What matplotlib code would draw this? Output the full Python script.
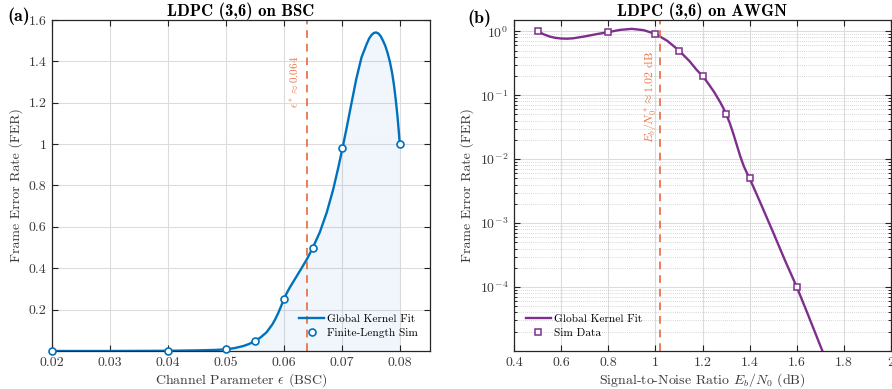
import matplotlib
matplotlib.use("Agg")
import matplotlib.pyplot as plt
from matplotlib.ticker import LogLocator, NullFormatter

plt.rcParams["font.family"] = "serif"
plt.rcParams["font.serif"] = ["cmr10"]
plt.rcParams["mathtext.fontset"] = "cm"
plt.rcParams["axes.formatter.use_mathtext"] = True
plt.rcParams["axes.unicode_minus"] = False

BLUE = "#0072BD"
PURPLE = "#7E2F8E"
ORANGE = "#E8693A"
TXT = "#3a3a3a"

# (a) BSC: simulated points and the kernel fit
bsc_eps = [0.02, 0.04, 0.05, 0.055, 0.06, 0.065, 0.07, 0.08]
bsc_fer = [0.0, 0.0, 0.008, 0.048, 0.25, 0.50, 0.98, 1.0]
bsc_fit_eps = [0.020, 0.030, 0.040, 0.045, 0.048, 0.050, 0.0515, 0.053, 0.054,
               0.055, 0.056, 0.057, 0.058, 0.0585, 0.059, 0.0595, 0.060, 0.0605,
               0.061, 0.062, 0.063, 0.064, 0.065, 0.0662, 0.0674, 0.0685, 0.0694,
               0.0701, 0.0708, 0.0717, 0.0725, 0.0734, 0.0743, 0.0747, 0.0751,
               0.0755, 0.0759, 0.0763, 0.0767, 0.0771, 0.0775, 0.0779, 0.0783,
               0.0787, 0.0790, 0.0793, 0.0796, 0.0798, 0.0800]
bsc_fit_fer = [0.0, 0.0, 0.001, 0.003, 0.005, 0.008, 0.014, 0.024, 0.034,
               0.048, 0.066, 0.090, 0.128, 0.153, 0.182, 0.215, 0.25, 0.28,
               0.306, 0.352, 0.398, 0.445, 0.50, 0.574, 0.670, 0.780, 0.888,
               0.979, 1.074, 1.203, 1.316, 1.42, 1.485, 1.51, 1.527,
               1.537, 1.540, 1.535, 1.522, 1.50, 1.475, 1.44, 1.397,
               1.34, 1.284, 1.215, 1.135, 1.07, 1.0]
bsc_thr = 0.064

# (b) AWGN
awgn_snr = [0.5, 0.8, 1.0, 1.1, 1.2, 1.3, 1.4, 1.6]
awgn_fer = [1.0, 0.97, 0.90, 0.50, 0.20, 0.05, 0.005, 1e-4]
awgn_fit_snr = [0.5, 0.525, 0.55, 0.575, 0.6, 0.625, 0.65, 0.7, 0.75, 0.8, 0.85,
                0.9, 0.95, 1.0, 1.05, 1.1, 1.145, 1.175, 1.2, 1.225, 1.25, 1.275,
                1.29, 1.3, 1.315, 1.33, 1.345, 1.36, 1.375, 1.39, 1.4, 1.425,
                1.45, 1.5, 1.55, 1.6, 1.65, 1.7, 1.72]
awgn_fit_fer = [1.0, 0.90, 0.83, 0.79, 0.77, 0.765, 0.775, 0.83, 0.90, 0.97, 1.05,
                1.09, 1.04, 0.91, 0.71, 0.50, 0.34, 0.249, 0.20, 0.151, 0.111, 0.0776,
                0.061, 0.0507, 0.0372, 0.0254, 0.0168, 0.0111, 0.00776, 0.00589, 0.00495, 0.00309,
                1.9e-3, 7.1e-4, 2.6e-4, 1e-4, 3.5e-5, 1.2e-5, 7.9e-6]
awgn_thr = 1.02

fig = plt.figure(figsize=(8.92, 3.89), dpi=100)
ax1 = fig.add_axes([0.0583, 0.0977, 0.4237, 0.8509])
ax2 = fig.add_axes([0.5762, 0.0977, 0.4228, 0.8509])


def style(ax):
    ax.tick_params(direction="in", top=True, right=True, length=4, width=0.8,
                   colors="#222222", labelcolor=TXT, labelsize=10, pad=4)
    ax.tick_params(which="minor", direction="in", top=False, right=True, length=2.2)
    for s in ax.spines.values():
        s.set_color("#262626")
        s.set_linewidth(0.9)
    ax.grid(True, which="major", color="#dcdcdc", linewidth=0.8)
    ax.set_axisbelow(True)


leg_kw = dict(frameon=False, fontsize=8.2, handlelength=2.2, handletextpad=0.25,
              labelspacing=0.35, borderaxespad=0.3)

# --- panel (a)
style(ax1)
ax1.fill_between(bsc_fit_eps, bsc_fit_fer, 0, color=BLUE, alpha=0.06, linewidth=0)
ax1.plot(bsc_fit_eps, bsc_fit_fer, color=BLUE, lw=1.7, label="Global Kernel Fit")
ax1.plot(bsc_eps, bsc_fer, "o", ms=5, mfc="white", mec=BLUE, mew=1.2,
         label="Finite-Length Sim", clip_on=False, zorder=5)
ax1.axvline(bsc_thr, color=ORANGE, ls=(0, (4, 3)), lw=1.4, alpha=0.85)
ax1.text(0.0619, 1.30, r"$\epsilon^* \approx 0.064$", color=ORANGE,
         rotation=90, fontsize=8, ha="center", va="center", alpha=0.9)
ax1.set_xlim(0.02, 0.0852)
ax1.set_ylim(0, 1.6)
ax1.set_xticks([0.02, 0.03, 0.04, 0.05, 0.06, 0.07, 0.08])
ax1.set_xticklabels(["0.02", "0.03", "0.04", "0.05", "0.06", "0.07", "0.08"])
ax1.set_yticks([0.2, 0.4, 0.6, 0.8, 1.0, 1.2, 1.4, 1.6])
ax1.set_yticklabels(["0.2", "0.4", "0.6", "0.8", "1", "1.2", "1.4", "1.6"])
ax1.set_xlabel(r"Channel Parameter $\epsilon$ (BSC)", fontsize=10, color=TXT, labelpad=2)
ax1.set_ylabel("Frame Error Rate (FER)", fontsize=10, color=TXT, labelpad=4)
ax1.set_title("LDPC (3,6) on BSC", family="cmb10", fontsize=12, pad=3)
ax1.legend(loc="lower right", bbox_to_anchor=(0.99, 0.015), **leg_kw)
fig.text(0.008, 0.957, "(a)", family="cmb10", fontsize=13, ha="left", va="center")

# --- panel (b)
style(ax2)
ax2.set_yscale("log")
ax2.plot(awgn_fit_snr, awgn_fit_fer, color=PURPLE, lw=1.7, label="Global Kernel Fit")
ax2.plot(awgn_snr, awgn_fer, "s", ms=4.2, mfc="white", mec=PURPLE, mew=1.1,
         label="Sim Data", zorder=5)
ax2.axvline(awgn_thr, color=ORANGE, ls=(0, (4, 3)), lw=1.4, alpha=0.85)
ax2.text(awgn_thr - 0.04, 0.095, r"$E_b/N_0^* \approx 1.02$ dB", color=ORANGE,
         rotation=90, fontsize=8.5, ha="center", va="center", alpha=0.9)
ax2.set_xlim(0.4, 2.0)
ax2.set_ylim(1e-5, 1.5)
ax2.set_xticks([0.4, 0.6, 0.8, 1.0, 1.2, 1.4, 1.6, 1.8, 2.0])
ax2.set_xticklabels(["0.4", "0.6", "0.8", "1", "1.2", "1.4", "1.6", "1.8", "2"])
ax2.set_yticks([1e-4, 1e-3, 1e-2, 1e-1, 1e0])
ax2.set_yticklabels([r"$10^{-4}$", r"$10^{-3}$", r"$10^{-2}$", r"$10^{-1}$", r"$10^{0}$"])
ax2.yaxis.set_minor_locator(LogLocator(base=10, subs=range(2, 10), numticks=20))
ax2.yaxis.set_minor_formatter(NullFormatter())
ax2.grid(True, which="minor", axis="y", color="#c8c8c8", linestyle=(0, (1, 1.5)), linewidth=0.6)
ax2.set_xlabel(r"Signal-to-Noise Ratio $E_b/N_0$ (dB)", fontsize=10, color=TXT, labelpad=2)
ax2.set_ylabel("Frame Error Rate (FER)", fontsize=10, color=TXT, labelpad=4)
ax2.set_title("LDPC (3,6) on AWGN", family="cmb10", fontsize=12, pad=3)
ax2.legend(loc="lower left", bbox_to_anchor=(0.01, 0.015), **leg_kw)
fig.text(0.5235, 0.954, "(b)", family="cmb10", fontsize=13, ha="left", va="center")

fig.savefig("out.png", dpi=100)
